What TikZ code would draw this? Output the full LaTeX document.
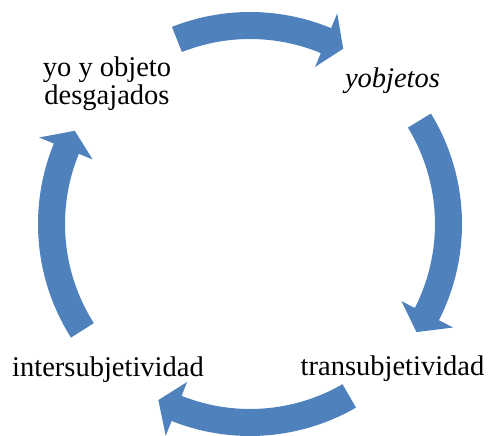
\documentclass[tikz,border=0pt]{standalone}
\usepackage{fontspec}
\setmainfont{Liberation Serif}
\newfontfamily\diagfont{Liberation Serif}
\usetikzlibrary{calc}
\definecolor{arrowblue}{RGB}{79,129,189}
\newcommand{\blockarc}[3]{%
  \fill[arrowblue] ($(C)+(#1:212pt)$) arc[start angle=#1, end angle=#2, radius=212pt]
    -- ($(C)+(#2:228pt)$) -- ($(C)+(#3:198.5pt)$) -- ($(C)+(#2:170pt)$)
    -- ($(C)+(#2:185pt)$) arc[start angle=#2, end angle=#1, radius=185pt] -- cycle;}
\begin{document}
\begin{tikzpicture}[x=1pt,y=1pt,
  txt/.style={font=\diagfont\fontsize{28.5}{28}\selectfont, inner sep=0pt, align=center}]
\useasboundingbox (0,0) rectangle (490,436);
\coordinate (C) at (250,212);
\blockarc{111.6}{67.5}{62}
\blockarc{31.4}{-27}{-33}
\blockarc{-60}{-111.7}{-117.5}
\blockarc{212.4}{157.7}{152}
\node[txt, anchor=base] (n1) at (107,331) {yo y objeto\\desgajados};
\node[txt, anchor=base, font=\diagfont\fontsize{28.5}{28}\selectfont\itshape] (n2) at (392.5,348) {yobjetos};
\node[txt, anchor=base] (n3) at (392.5,60) {transubjetividad};
\node[txt, anchor=base] (n4) at (108,59) {intersubjetividad};
\end{tikzpicture}
\end{document}
